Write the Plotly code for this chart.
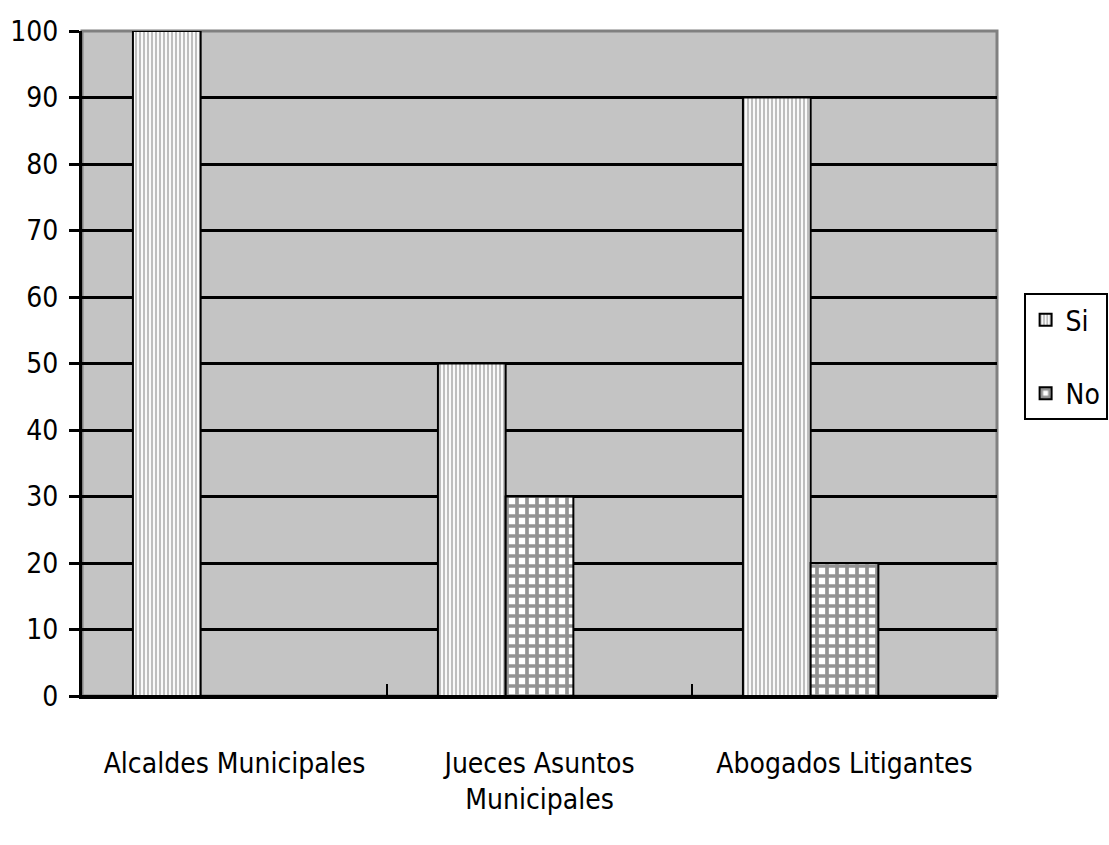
import plotly.graph_objects as go

categories = ["Alcaldes Municipales", "Jueces Asuntos<br>Municipales", "Abogados Litigantes"]
si_values = [100, 50, 90]
no_values = [None, 30, 20]
y_ticks = list(range(0, 101, 10))

FONT = "DejaVu Sans Condensed, Liberation Sans Narrow, Arial Narrow, sans-serif"

fig = go.Figure()
fig.add_trace(go.Bar(
    x=categories, y=si_values, name="Si",
    width=0.222, offset=-0.333,
    marker=dict(color="white", line=dict(color="black", width=2),
                pattern=dict(shape="|", fgcolor="#7c7c7c", bgcolor="white", size=4, solidity=0.55)),
    legendgroup="a",
))
fig.add_trace(go.Bar(
    x=categories, y=no_values, name="No",
    width=0.222, offset=-0.111,
    marker=dict(color="white", line=dict(color="black", width=2),
                pattern=dict(shape="+", fgcolor="#262626", bgcolor="white", size=10, solidity=0.6)),
    legendgroup="b",
))

fig.add_shape(type="rect", xref="x domain", yref="y domain", x0=0, x1=1, y0=0, y1=1,
              line=dict(color="#808080", width=3), layer="below")

fig.update_layout(
    width=1109, height=845,
    margin=dict(l=82, r=112, t=31, b=149, autoexpand=False),
    paper_bgcolor="white", plot_bgcolor="#c4c4c4",
    font=dict(family=FONT, size=28, color="black"),
    barmode="overlay",
    showlegend=True,
    legend=dict(xref="container", yref="container", x=0.923, y=0.578,
                xanchor="left", yanchor="middle",
                bordercolor="black", borderwidth=2, bgcolor="white",
                font=dict(size=28), tracegroupgap=34, itemwidth=30),
    xaxis=dict(showline=True, linecolor="black", linewidth=3, automargin=False,
               ticks="inside", tickson="boundaries", ticklen=12, tickwidth=2, tickcolor="black",
               showgrid=False, ticklabelstandoff=40, fixedrange=True),
    yaxis=dict(range=[0, 100], tickvals=y_ticks, showline=True, linecolor="black", linewidth=3,
               automargin=False,
               ticks="outside", ticklen=10, tickwidth=3, tickcolor="black",
               showgrid=True, gridcolor="black", gridwidth=3,
               zeroline=True, zerolinecolor="black", zerolinewidth=3,
               ticklabelstandoff=5),
)

fig.write_html("out.html")
